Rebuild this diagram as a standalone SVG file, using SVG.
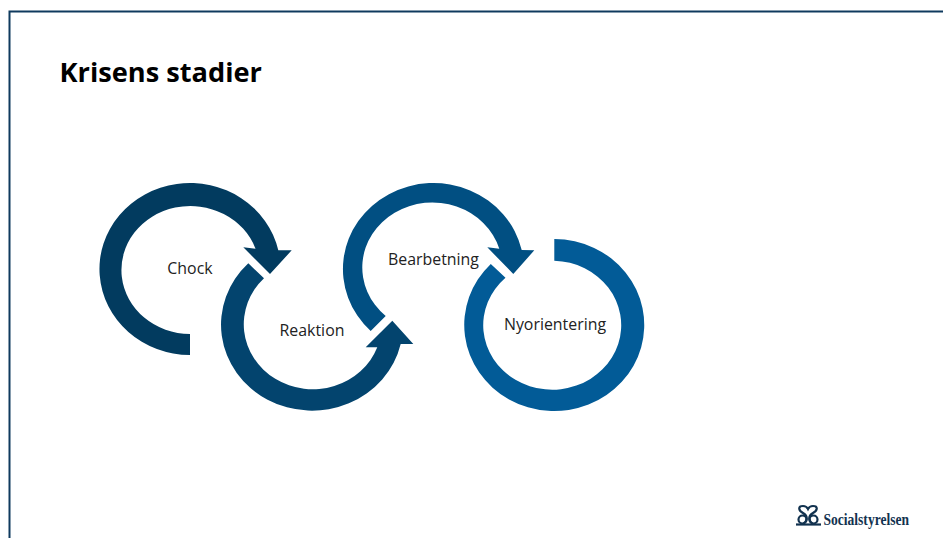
<svg xmlns="http://www.w3.org/2000/svg" width="943" height="538" viewBox="0 0 943 538">
<style>
text{font-family:"Open Sans","Noto Sans","Liberation Sans",sans-serif;fill:#222}
.lbl{font-size:15.900px;text-anchor:middle}
.title{font-size:27.200px;font-weight:700;fill:#000}
.logo{font-family:"Liberation Serif",serif;font-size:16px;font-weight:700;fill:#12324f}
.ic{fill:none;stroke:#12324f;stroke-width:2.200}
</style>
<rect width="943" height="538" fill="#fff"/>
<path d="M950,11.500H9.500V545" fill="none" stroke="#0f3a5e" stroke-width="2"/>
<text class="title" x="59.500" y="81.500">Krisens stadier</text>
<g id="chock">
<path fill="#023b5f" d="M190,355A90.500,86 0 1 1 278.300,250.300L291.700,250.300L270,274L243.300,247.300L255.500,248.700A69,64 0 1 0 190,334Z"/>
<text class="lbl" x="190" y="274">Chock</text>
</g>
<g id="reaktion">
<path fill="#03446e" d="M248.300,263.300A91,86 0 1 0 400.700,344L413.300,344L392.300,320.700L365.700,347.300L377.300,347.300A69,65 0 1 1 264,278.300Z"/>
<text class="lbl" x="312" y="335.500">Reaktion</text>
</g>
<g id="bearbetning">
<path fill="#014f82" d="M370.700,331A90.500,86 0 1 1 521.700,250L534.300,250.300L513.300,274L487.300,247.300L499.300,248.700A70,65 0 1 0 385.700,316Z"/>
<text class="lbl" x="433.500" y="265">Bearbetning</text>
</g>
<g id="nyorientering">
<path fill="#025b97" d="M554.300,239A90,86 0 1 1 490.800,264L505.500,277.700A69,64.500 0 1 0 554.300,260.700Z"/>
<text class="lbl" x="555" y="330">Nyorientering</text>
</g>
<g id="logo">
<path class="ic" d="M796,524.500H821"/>
<path class="ic" d="M803,524C808,520 808,516 803,513C798,510 798,506 803,506C806,506 807,507 808,509C809,507 810,506 813,506C818,506 818,510 813,513C808,516 808,520 813,524"/>
<circle class="ic" cx="802.500" cy="519.500" r="4"/>
<circle class="ic" cx="813.500" cy="519.500" r="4"/>
<text class="logo" x="823.500" y="525" textLength="85.500" lengthAdjust="spacingAndGlyphs">Socialstyrelsen</text>
</g>
</svg>
